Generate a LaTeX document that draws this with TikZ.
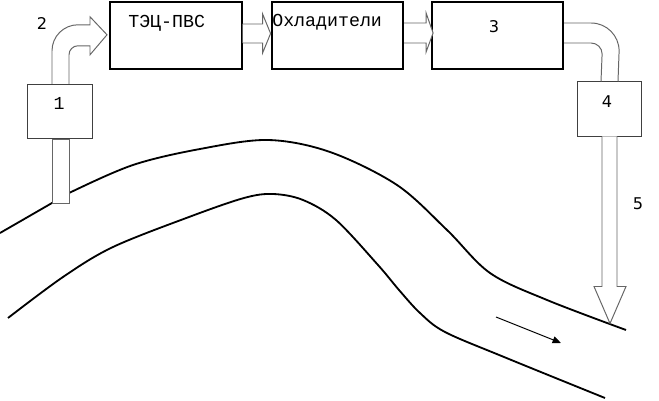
\documentclass[tikz,border=0pt]{standalone}
\usepackage{fontspec}
\setmainfont{DejaVu Sans}
\newfontfamily\monofont{Liberation Mono}
\usetikzlibrary{arrows.meta,calc}

\begin{document}
\begin{tikzpicture}[x=0.025cm,y=0.025cm,
  bigbox/.style={draw,line width=1.4pt,minimum width=3.28cm,minimum height=1.67cm,inner sep=0pt},
  smallbox/.style={draw=black!75,line width=0.7pt,minimum width=1.64cm,minimum height=1.36cm,inner sep=0pt},
  pipe/.style={draw=black!60,line width=0.7pt,fill=white},
  bank/.style={line width=1.3pt},
  mono/.style={font=\monofont\fontsize{13}{15}\selectfont,inner sep=0pt},
  num/.style={font=\fontsize{11.5}{13}\selectfont,inner sep=0pt}
]
  \useasboundingbox (0,0) rectangle (659,401);
  % River banks
  \draw[bank] plot[smooth,tension=0.55] coordinates {(0,168) (52,198) (69,208) (133,236)
    (200,252) (268,261) (330,249) (397,216) (447,171) (490,128) (547,101) (626,71)};
  \draw[bank] plot[smooth,tension=0.55] coordinates {(8,83) (63,124) (113,154) (189,184)
    (244,203) (273,207) (303,201) (336,181) (378,136) (399,111) (420,88) (445,69)
    (504,44) (605,3)};
  \draw[-{Triangle[length=6pt,width=5pt]},line width=0.7pt] (496,84) -- (561,58);
  % Boxes
  \node[bigbox] (tec) at (176,365.5) {};
  \node[bigbox] (ohl) at (337.5,365.5) {};
  \node[bigbox] (b3) at (497.5,365.5) {};
  \node[smallbox] (b1) at (60,289.5) {};
  \node[smallbox,minimum width=1.62cm,minimum height=1.35cm] (b4) at (609.5,292) {};
  % Labels
  \node[mono,anchor=west] (tectxt) at (128,378) {ТЭЦ-ПВС};
  \node[mono,anchor=west] (ohltxt) at (272,379) {Охладители};
  \node[mono] (n1) at (59,298) {1};
  \node[num] (n2) at (42,377) {2};
  \node[num] (n3) at (494,374) {3};
  \node[num] (n4) at (607,299) {4};
  \node[num] (n5) at (638,197) {5};
  % Pipes
  \draw[pipe] ($(b1.south)+(-8,0)$) rectangle ++(17,-64);
  \draw[pipe] ($(b1.north)+(-8,0)$) -- ++(0,33) arc[start angle=180,end angle=90,radius=0.65cm]
    -- ++(12,0) -- ++(0,8) -- ++(17,-18) -- ++(-17,-20) -- ++(0,9) -- ++(-12,0)
    arc[start angle=90,end angle=180,radius=0.225cm] -- ($(b1.north)+(9,0)$);
  \draw[pipe] ($(tec.east)+(0,11.5)$) -- ++(20,0) -- ++(0,10) -- ++(8,-19.5)
    -- ++(-8,-19.5) -- ++(0,10) -- ++(-20,0);
  \draw[pipe] ($(ohl.east)+(0,12.5)$) -- ++(22,0) -- ++(0,10) -- ++(7,-20)
    -- ++(-7,-19) -- ++(0,9) -- ++(-22,0);
  \draw[pipe,fill=none] ($(b3.east)+(0,12.5)$) -- ++(27,0)
    arc[start angle=90,end angle=0,radius=0.7cm] -- ($(b4.north)+(8.5,0)$);
  \draw[pipe,fill=none] ($(b3.east)+(0,-7.5)$) -- ++(27,0)
    arc[start angle=90,end angle=0,radius=0.275cm] -- ($(b4.north)+(-8.5,0)$);
  \draw[pipe] ($(b4.south)+(-7.5,0)$) -- ++(0,-150) -- ++(-8,0) -- ++(16,-37)
    -- ++(16,37) -- ++(-9,0) -- ($(b4.south)+(7.5,0)$);
\end{tikzpicture}
\end{document}
